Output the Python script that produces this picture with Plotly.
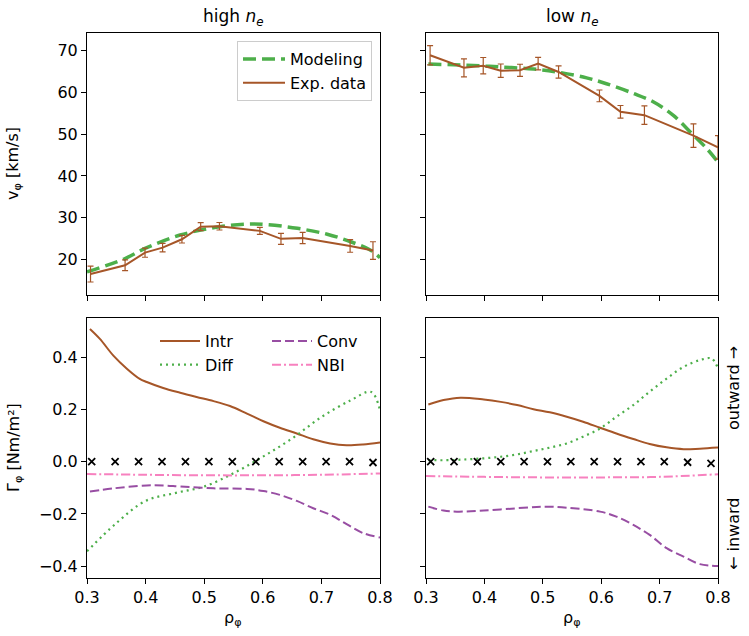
import plotly.graph_objects as go

# ---------------- data ----------------
# top-left (high n_e): experimental rotation
exp_hi_x = [0.306, 0.365, 0.399, 0.429, 0.462, 0.494, 0.526, 0.595, 0.631, 0.668, 0.749, 0.788]
exp_hi_y = [16.6, 18.7, 21.7, 22.9, 24.9, 27.9, 28.0, 26.9, 25.0, 25.2, 23.3, 22.2]
exp_hi_err = [1.9, 1.3, 1.1, 1.0, 0.9, 0.95, 0.9, 0.85, 1.3, 1.35, 1.5, 2.1]
mod_hi_x = [0.300, 0.365, 0.399, 0.459, 0.527, 0.573, 0.607, 0.659, 0.710, 0.750, 0.784, 0.800]
mod_hi_y = [17.1, 20.3, 22.7, 25.9, 27.9, 28.5, 28.4, 27.5, 26.1, 24.3, 22.3, 20.5]

# top-right (low n_e)
exp_lo_x = [0.307, 0.365, 0.398, 0.428, 0.461, 0.492, 0.527, 0.597, 0.633, 0.674, 0.758, 0.800]
exp_lo_y = [68.8, 65.8, 66.3, 65.1, 65.2, 66.8, 64.8, 59.1, 55.3, 54.5, 49.6, 46.8]
exp_lo_err = [2.3, 2.15, 1.95, 1.6, 1.45, 1.5, 1.45, 1.4, 1.5, 2.2, 2.8, 2.8]
mod_lo_x = [0.304, 0.370, 0.427, 0.484, 0.529, 0.575, 0.609, 0.655, 0.689, 0.723, 0.758, 0.781, 0.800]
mod_lo_y = [66.7, 66.4, 66.0, 65.5, 64.7, 63.4, 62.0, 59.7, 57.7, 54.5, 49.7, 46.5, 43.3]

# bottom-left (high n_e) flux components
rho_a = [0.305, 0.322, 0.345, 0.368, 0.390, 0.402, 0.430, 0.459, 0.487, 0.516,
         0.544, 0.573, 0.601, 0.629, 0.658, 0.686, 0.715, 0.743, 0.771, 0.800]
intr_hi = [0.508, 0.470, 0.406, 0.356, 0.317, 0.305, 0.282, 0.264, 0.248, 0.232,
           0.213, 0.184, 0.155, 0.130, 0.108, 0.086, 0.070, 0.063, 0.066, 0.074]
diff_hi_x = [0.300, 0.350, 0.400, 0.450, 0.500, 0.550, 0.600, 0.650, 0.700, 0.750, 0.785, 0.800]
diff_hi = [-0.343, -0.235, -0.150, -0.120, -0.095, -0.044, 0.019, 0.089, 0.171, 0.235, 0.267, 0.197]
conv_hi_x = [0.305, 0.345, 0.402, 0.430, 0.459, 0.516, 0.573, 0.601, 0.629, 0.658, 0.686, 0.715, 0.743, 0.771, 0.800]
conv_hi = [-0.114, -0.102, -0.091, -0.091, -0.095, -0.102, -0.104, -0.112, -0.127, -0.150,
           -0.178, -0.203, -0.239, -0.273, -0.290]
nbi_x = [0.300, 0.400, 0.500, 0.600, 0.700, 0.800]
nbi_hi = [-0.047, -0.050, -0.052, -0.052, -0.050, -0.045]

# bottom-right (low n_e)
rho_b = [0.304, 0.330, 0.359, 0.399, 0.428, 0.456, 0.484, 0.512, 0.541, 0.569,
         0.598, 0.626, 0.655, 0.683, 0.712, 0.741, 0.769, 0.800]
intr_lo = [0.219, 0.236, 0.245, 0.238, 0.229, 0.217, 0.201, 0.189, 0.172, 0.153,
           0.130, 0.108, 0.087, 0.068, 0.055, 0.048, 0.050, 0.054]
diff_lo_x = [0.304, 0.341, 0.370, 0.399, 0.428, 0.456, 0.484, 0.512, 0.541, 0.569,
             0.598, 0.626, 0.655, 0.683, 0.712, 0.741, 0.769, 0.789, 0.800]
diff_lo = [0.006, 0.006, 0.009, 0.013, 0.019, 0.028, 0.041, 0.054, 0.070, 0.096,
           0.127, 0.172, 0.217, 0.268, 0.318, 0.363, 0.389, 0.395, 0.357]
conv_lo_x = [0.304, 0.330, 0.353, 0.399, 0.456, 0.502, 0.541, 0.598, 0.626, 0.655,
             0.683, 0.712, 0.741, 0.769, 0.800]
conv_lo = [-0.172, -0.187, -0.191, -0.187, -0.178, -0.172, -0.176, -0.191, -0.210, -0.242,
           -0.280, -0.331, -0.363, -0.392, -0.399]
nbi_lo = [-0.055, -0.058, -0.060, -0.060, -0.058, -0.048]

# total flux check markers
cross_x = [0.308, 0.348, 0.388, 0.428, 0.468, 0.508, 0.548, 0.588, 0.628, 0.668, 0.708, 0.748, 0.788]
cross_hi = [0.0, 0.0, 0.0, 0.0, 0.0, 0.0, 0.0, 0.0, 0.0, 0.0, 0.0, 0.0, -0.003]
cross_lo = [0.0, 0.0, 0.0, 0.0, 0.0, 0.0, 0.0, 0.0, 0.0, 0.0, 0.0, -0.002, -0.006]

titles = ["high <i>n</i><sub><i>e</i></sub>", "low <i>n</i><sub><i>e</i></sub>"]

# ---------------- style ----------------
BROWN = "#a65628"
GREEN = "#4daf4a"
PURPLE = "#984ea3"
PINK = "#f781bf"
FONT = "DejaVu Sans"
W, H = 749, 636

fig = go.Figure()

def add_top(xa, ya, mx, my, ex, ey, ee, show):
    fig.add_trace(go.Scatter(x=mx, y=my, mode="lines", name="Modeling",
                             line=dict(color=GREEN, width=3.5, dash="13px,6px", shape="spline"),
                             xaxis=xa, yaxis=ya, showlegend=show, legend="legend"))
    fig.add_trace(go.Scatter(x=ex, y=ey, mode="lines", name="Exp. data",
                             line=dict(color=BROWN, width=2),
                             error_y=dict(type="data", array=ee, color=BROWN, thickness=1.2, width=3),
                             xaxis=xa, yaxis=ya, showlegend=show, legend="legend"))

add_top("x", "y", mod_hi_x, mod_hi_y, exp_hi_x, exp_hi_y, exp_hi_err, True)
add_top("x2", "y2", mod_lo_x, mod_lo_y, exp_lo_x, exp_lo_y, exp_lo_err, False)

def add_bottom(xa, ya, rx, intr, dx, diff, cx, conv, nbi, cy, show):
    fig.add_trace(go.Scatter(x=rx, y=intr, mode="lines", name="Intr",
                             line=dict(color=BROWN, width=2, shape="spline"),
                             xaxis=xa, yaxis=ya, showlegend=show, legend="legend2"))
    fig.add_trace(go.Scatter(x=dx, y=diff, mode="lines", name="Diff",
                             line=dict(color=GREEN, width=2.2, dash="2px,4px", shape="spline"),
                             xaxis=xa, yaxis=ya, showlegend=show, legend="legend2"))
    fig.add_trace(go.Scatter(x=cx, y=conv, mode="lines", name="Conv",
                             line=dict(color=PURPLE, width=2, dash="9px,4px", shape="spline"),
                             xaxis=xa, yaxis=ya, showlegend=show, legend="legend3"))
    fig.add_trace(go.Scatter(x=nbi_x, y=nbi, mode="lines", name="NBI",
                             line=dict(color=PINK, width=2, dash="9px,3px,2px,3px", shape="spline"),
                             xaxis=xa, yaxis=ya, showlegend=show, legend="legend3"))
    fig.add_trace(go.Scatter(x=cross_x, y=cy, mode="markers", name="total",
                             marker=dict(symbol="x-thin", size=7, line=dict(color="black", width=1.8)),
                             xaxis=xa, yaxis=ya, showlegend=False))

add_bottom("x3", "y3", rho_a, intr_hi, diff_hi_x, diff_hi, conv_hi_x, conv_hi, nbi_hi, cross_hi, True)
add_bottom("x4", "y4", rho_b, intr_lo, diff_lo_x, diff_lo, conv_lo_x, conv_lo, nbi_lo, cross_lo, False)

# ---------------- layout ----------------
xl = [87 / W, 380 / W]
xr = [426 / W, 718 / W]
yt = [1 - 295 / H, 1 - 33 / H]
yb = [1 - 578 / H, 1 - 318 / H]

common = dict(showline=True, mirror=True, linecolor="black", linewidth=1,
              ticks="outside", ticklen=5, tickwidth=1, tickcolor="black",
              showgrid=False, zeroline=False, automargin=False,
              tickfont=dict(family=FONT, size=16, color="black"))

xcommon = dict(common, range=[0.3, 0.8], tickvals=[0.3, 0.4, 0.5, 0.6, 0.7, 0.8], tickformat=".1f")
ytop = dict(common, range=[11.6, 74.1], tickvals=[20, 30, 40, 50, 60, 70])
ybot = dict(common, range=[-0.445, 0.55], tickvals=[-0.4, -0.2, 0.0, 0.2, 0.4], tickformat=".1f")

fig.update_layout(
    width=W, height=H,
    margin=dict(l=0, r=0, t=0, b=0),
    paper_bgcolor="white", plot_bgcolor="white",
    font=dict(family=FONT, size=16, color="black"),
    xaxis=dict(xcommon, domain=xl, anchor="y", showticklabels=False),
    xaxis2=dict(xcommon, domain=xr, anchor="y2", showticklabels=False),
    xaxis3=dict(xcommon, domain=xl, anchor="y3"),
    xaxis4=dict(xcommon, domain=xr, anchor="y4"),
    yaxis=dict(ytop, domain=yt, anchor="x"),
    yaxis2=dict(ytop, domain=yt, anchor="x2", showticklabels=False),
    yaxis3=dict(ybot, domain=yb, anchor="x3"),
    yaxis4=dict(ybot, domain=yb, anchor="x4", showticklabels=False),
    legend=dict(x=372 / W, y=1 - 41 / H, xanchor="right", yanchor="top",
                bgcolor="rgba(255,255,255,0.8)", bordercolor="#cccccc", borderwidth=1,
                font=dict(family=FONT, size=16), tracegroupgap=0, itemwidth=42),
    legend2=dict(x=155 / W, y=1 - 324 / H, xanchor="left", yanchor="top",
                 bgcolor="rgba(0,0,0,0)", borderwidth=0,
                 font=dict(family=FONT, size=16), tracegroupgap=0, itemwidth=40),
    legend3=dict(x=267 / W, y=1 - 324 / H, xanchor="left", yanchor="top",
                 bgcolor="rgba(0,0,0,0)", borderwidth=0,
                 font=dict(family=FONT, size=16), tracegroupgap=0, itemwidth=40),
)

ann = []
for i, cx in enumerate([sum(xl) / 2, sum(xr) / 2]):
    ann.append(dict(text=titles[i], x=cx, y=1 - 17 / H, xref="paper", yref="paper",
                    showarrow=False, font=dict(family=FONT, size=17), xanchor="center", yanchor="middle"))
    ann.append(dict(text="ρ<sub>φ</sub>", x=cx, y=1 - 618 / H, xref="paper", yref="paper",
                    showarrow=False, font=dict(family=FONT, size=16), xanchor="center", yanchor="middle"))
ann.append(dict(text="v<sub>φ</sub> [km/s]", x=14 / W, y=sum(yt) / 2, xref="paper", yref="paper",
                showarrow=False, textangle=-90, font=dict(family=FONT, size=16),
                xanchor="center", yanchor="middle"))
ann.append(dict(text="Γ<sub>φ</sub> [Nm/m²]", x=14 / W, y=sum(yb) / 2, xref="paper", yref="paper",
                showarrow=False, textangle=-90, font=dict(family=FONT, size=16),
                xanchor="center", yanchor="middle"))
ann.append(dict(text="outward →", x=733 / W, y=1 - 388 / H, xref="paper", yref="paper",
                showarrow=False, textangle=-90, font=dict(family=FONT, size=16),
                xanchor="center", yanchor="middle"))
ann.append(dict(text="← inward", x=733 / W, y=1 - 534 / H, xref="paper", yref="paper",
                showarrow=False, textangle=-90, font=dict(family=FONT, size=16),
                xanchor="center", yanchor="middle"))
fig.update_layout(annotations=ann)

fig.write_html("out.html")
